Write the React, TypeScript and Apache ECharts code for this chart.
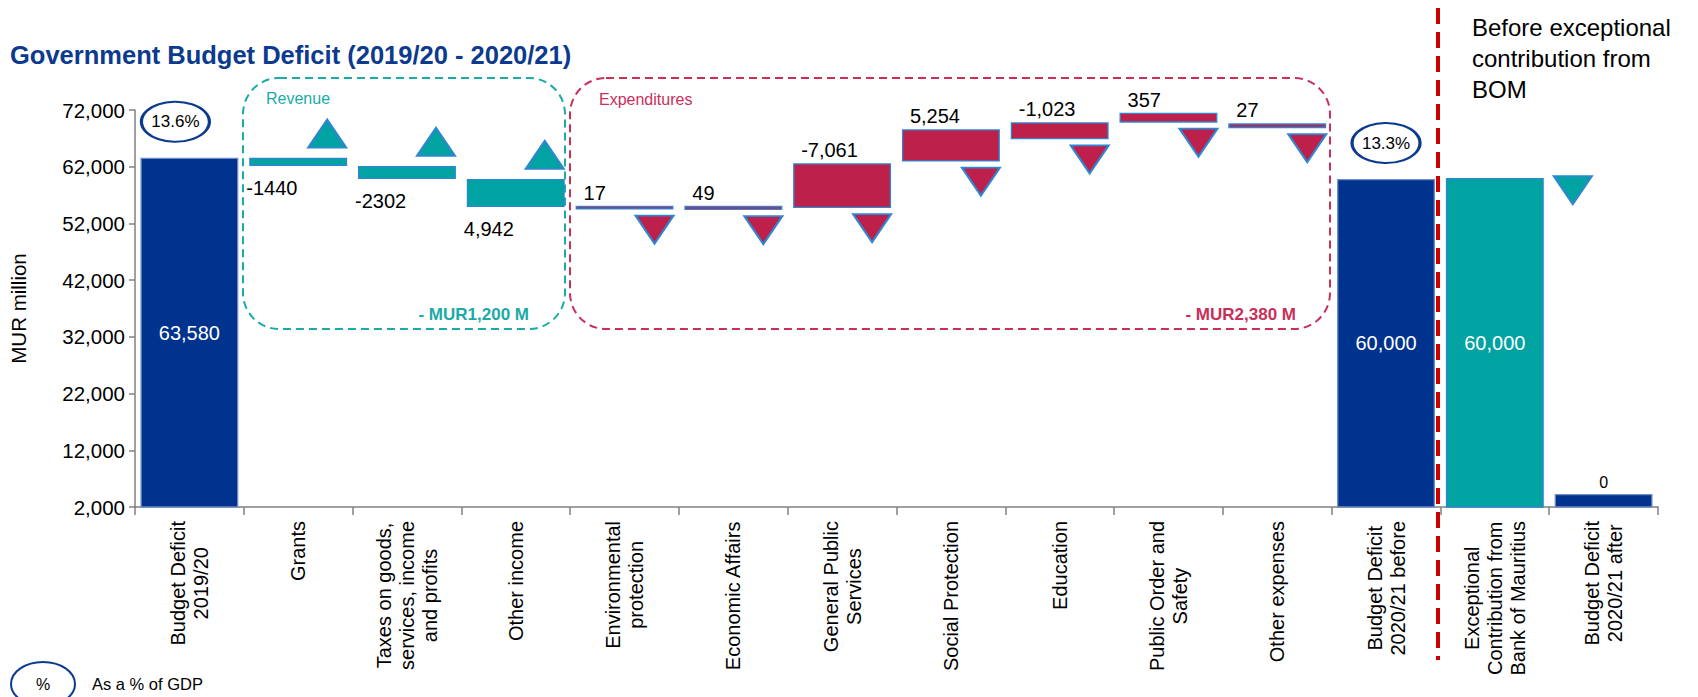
import React, { useEffect, useRef } from "react";
import * as echarts from "echarts";

const categories = [
  "Budget Deficit\n2019/20",
  "Grants",
  "Taxes on goods,\nservices, income\nand profits",
  "Other income",
  "Environmental\nprotection",
  "Economic Affairs",
  "General Public\nServices",
  "Social Protection",
  "Education",
  "Public Order and\nSafety",
  "Other expenses",
  "Budget Deficit\n2020/21 before",
  "Exceptional\nContribution from\nBank of Mauritius",
  "Budget Deficit\n2020/21 after",
];

// bar kind: total, rev (revenue change), exp (expenditure change), bom
const kinds = ["total", "rev", "rev", "rev", "exp", "exp", "exp", "exp", "exp", "exp", "exp", "total", "bom", "total"];

// floating bar extents (MUR million)
const barLow = [0, 62140, 59840, 54900, 54450, 54350, 54700, 62900, 66830, 69770, 68800, 0, 0, 0];
const barHigh = [63580, 63580, 62140, 59840, 55100, 55100, 62600, 68600, 69830, 71530, 69650, 59830, 60000, 4300];

// printed labels
const barLabels = ["63,580", "-1440", "-2302", "4,942", "17", "49", "-7,061", "5,254", "-1,023", "357", "27", "60,000", "60,000", "0"];

// % of GDP bubbles
const gdpIndex = [0, 11];
const gdpLabels = ["13.6%", "13.3%"];

const yTicks = { min: 2000, max: 72000, interval: 10000 };

const C_BLUE = "#00338D";
const C_TEAL = "#00A3A1";
const C_RED = "#BC204B";
const C_EDGE = "#2F86D1";
const FONT = "Arial, 'Liberation Sans', sans-serif";

export default function App() {
  const ref = useRef<HTMLDivElement>(null);

  useEffect(() => {
    document.body.style.margin = "0";
    const chart = echarts.init(ref.current!, undefined, { renderer: "svg" });

    const colorOf = (k: string) => (k === "total" ? C_BLUE : k === "exp" ? C_RED : C_TEAL);

    const deltaData = kinds.map((k, i) => {
      const item: any = {
        value: barHigh[i] - barLow[i],
        itemStyle: { color: colorOf(k), borderColor: k === "total" ? "#6E8CC8" : C_EDGE, borderWidth: 1.3 },
      };
      if ((k === "total" || k === "bom") && i !== 13) {
        item.label = { show: true, position: "inside", color: "#fff", fontSize: 20, formatter: barLabels[i] };
      } else if (i === 13) {
        item.label = { show: true, position: "top", distance: 3, color: "#000", fontSize: 16, formatter: barLabels[i] };
      } else if (k === "rev") {
        item.label = {
          show: true, position: [0, "100%"], offset: [-3, 12], align: "left", verticalAlign: "top",
          color: "#000", fontSize: 20, formatter: barLabels[i],
        };
      } else {
        item.label = {
          show: true, position: [0, 0], offset: [8, -3], align: "left", verticalAlign: "bottom",
          color: "#000", fontSize: 20, formatter: barLabels[i],
        };
      }
      return item;
    });

    const upTri: any[] = [];
    const downTri: any[] = [];
    kinds.forEach((k, i) => {
      if (k === "rev") upTri.push([i, barHigh[i]]);
      if (k === "exp") downTri.push([i, barLow[i]]);
    });
    const bomTri = kinds.map((k, i) => (k === "bom" ? [i, barHigh[i]] : null)).filter(Boolean);

    const gdpData = gdpIndex.map((idx, j) => ({
      value: [idx, barHigh[idx]],
      symbolOffset: [j === 0 ? -14 : 0, -36],
      label: { show: true, position: "inside", formatter: gdpLabels[j], color: "#000", fontSize: 17 },
    }));

    const option: any = {
      animation: false,
      textStyle: { fontFamily: FONT },
      title: {
        text: "Government Budget Deficit (2019/20 - 2020/21)",
        left: 5,
        top: 37,
        textStyle: { fontSize: 25.5, fontWeight: "bold", color: "#0B3A8F", fontFamily: FONT },
      },
      grid: { left: 130, right: 40, top: 110, bottom: 190, containLabel: false },
      xAxis: {
        type: "category",
        data: categories,
        axisLine: { lineStyle: { color: "#808080", width: 1.5 } },
        axisTick: { show: true, length: 8, lineStyle: { color: "#808080", width: 1.5 } },
        axisLabel: {
          interval: 0,
          rotate: 90,
          margin: 14,
          formatter: (v: string) => v.split("\n").map((l) => `{c|${l}}`).join("\n"),
          rich: { c: { align: "center", fontSize: 20, lineHeight: 23, color: "#000", fontFamily: FONT } },
        },
      },
      yAxis: {
        type: "value",
        min: yTicks.min,
        max: yTicks.max,
        interval: yTicks.interval,
        name: "MUR million",
        nameLocation: "middle",
        nameRotate: 90,
        nameGap: 106,
        nameTextStyle: { fontSize: 20.5, color: "#000" },
        axisLine: { show: true, lineStyle: { color: "#808080", width: 1.5 } },
        axisTick: { show: true, length: 6, lineStyle: { color: "#808080", width: 1.5 } },
        axisLabel: { fontSize: 20.5, color: "#000", margin: 10 },
        splitLine: { show: false },
      },
      series: [
        {
          type: "bar",
          stack: "wf",
          data: barLow,
          itemStyle: { color: "transparent" },
          barCategoryGap: "10%",
          silent: true,
        },
        {
          type: "bar",
          stack: "wf",
          data: deltaData,
          barCategoryGap: "10%",
        },
        {
          type: "scatter",
          data: upTri,
          symbol: "triangle",
          symbolSize: [38, 28],
          symbolOffset: [29, -24],
          itemStyle: { color: C_TEAL, borderColor: C_EDGE, borderWidth: 2, opacity: 1 },
          z: 5,
        },
        {
          type: "scatter",
          data: downTri,
          symbol: "triangle",
          symbolRotate: 180,
          symbolSize: [38, 28],
          symbolOffset: [30, 20],
          itemStyle: { color: C_RED, borderColor: C_EDGE, borderWidth: 2, opacity: 1 },
          z: 5,
        },
        {
          type: "scatter",
          data: bomTri,
          symbol: "triangle",
          symbolRotate: 180,
          symbolSize: [38, 28],
          symbolOffset: [78, 12],
          itemStyle: { color: C_TEAL, borderColor: C_EDGE, borderWidth: 2, opacity: 1 },
          z: 5,
        },
        {
          type: "scatter",
          data: gdpData,
          symbol: "circle",
          symbolSize: [68, 40],
          itemStyle: { color: "#fff", borderColor: "#0B3A8F", borderWidth: 2.5, opacity: 1 },
          z: 5,
        },
      ],
      graphic: [
        {
          type: "rect", silent: true, z: 1,
          shape: { x: 243, y: 78, width: 322, height: 251, r: 36 },
          style: { fill: "none", stroke: "#1AABA7", lineWidth: 2, lineDash: [8, 5] },
        },
        {
          type: "rect", silent: true, z: 1,
          shape: { x: 570, y: 78, width: 760, height: 251, r: 36 },
          style: { fill: "none", stroke: "#C8305A", lineWidth: 2, lineDash: [8, 5] },
        },
        { type: "text", x: 266, y: 98, style: { text: "Revenue", fill: "#1AABA7", fontSize: 16, fontFamily: FONT, verticalAlign: "middle" } },
        { type: "text", x: 599, y: 99, style: { text: "Expenditures", fill: "#C8305A", fontSize: 16, fontFamily: FONT, verticalAlign: "middle" } },
        { type: "text", x: 529, y: 314, style: { text: "- MUR1,200 M", fill: "#1AABA7", fontSize: 17, fontWeight: "bold", fontFamily: FONT, align: "right", verticalAlign: "middle" } },
        { type: "text", x: 1296, y: 314, style: { text: "- MUR2,380 M", fill: "#C8305A", fontSize: 17, fontWeight: "bold", fontFamily: FONT, align: "right", verticalAlign: "middle" } },
        {
          type: "line", z: 10, silent: true,
          shape: { x1: 1438, y1: 8, x2: 1438, y2: 660 },
          style: { stroke: "#CC0000", lineWidth: 4, lineDash: [16, 8] },
        },
        {
          type: "text", x: 1472, y: 12,
          style: { text: "Before exceptional\ncontribution from\nBOM", fill: "#000", fontSize: 24, lineHeight: 31, fontFamily: FONT },
        },
        { type: "ellipse", shape: { cx: 43, cy: 684, rx: 32, ry: 22 }, style: { fill: "#fff", stroke: "#0B3A8F", lineWidth: 2 } },
        { type: "text", x: 43, y: 684, style: { text: "%", fill: "#000", fontSize: 16, fontFamily: FONT, align: "center", verticalAlign: "middle" } },
        { type: "text", x: 92, y: 684, style: { text: "As a % of GDP", fill: "#000", fontSize: 16.5, fontFamily: FONT, verticalAlign: "middle" } },
      ],
    };

    chart.setOption(option);
    return () => chart.dispose();
  }, []);

  return <div ref={ref} style={{ position: "fixed", left: 0, top: 0, width: 1698, height: 697, background: "#fff" }} />;
}
